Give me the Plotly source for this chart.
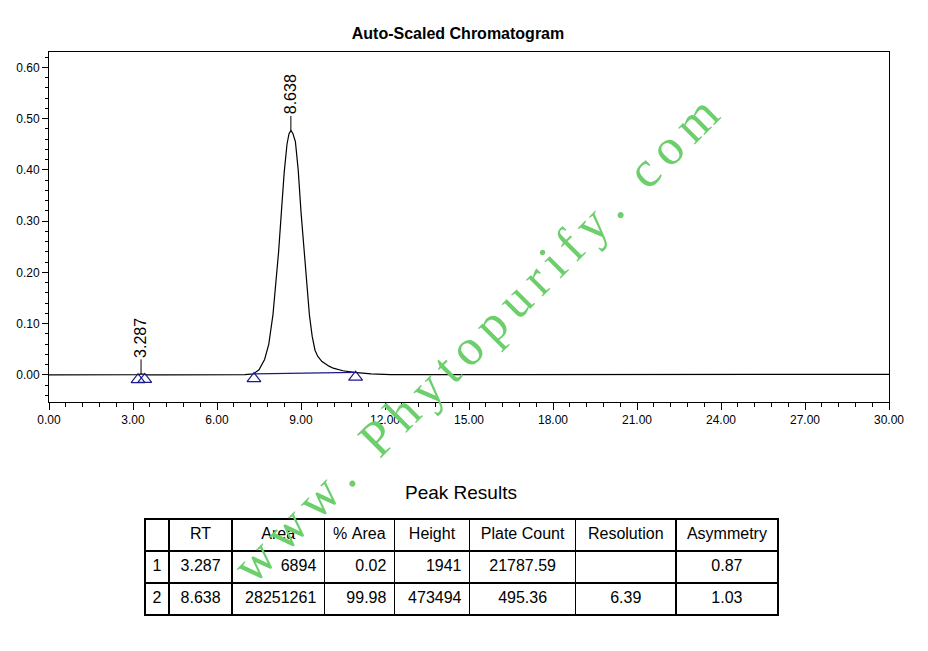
import plotly.graph_objects as go

# page has an 8px body margin, so the figure is drawn 8px in from the window edge
OFF = 8
W, H = 928 - OFF, 651 - OFF


def px_x(p):
    return (p - OFF) / W


def px_y(p):
    return 1 - (p - OFF) / H


# chromatogram trace (min, AU)
time_min = [0.0, 1.0, 2.0, 2.5, 2.7, 2.9, 3.1, 3.2, 3.287, 3.38, 3.5, 4.0, 5.0, 6.0, 7.0,
            7.3, 7.5, 7.7, 7.85, 8.0, 8.1, 8.2, 8.3, 8.4, 8.5, 8.57, 8.64, 8.71, 8.8,
            8.9, 9.0, 9.1, 9.2, 9.3, 9.4, 9.5, 9.6, 9.75, 10.0, 10.15, 10.5, 10.9, 11.5,
            12.2, 13.0, 15.0, 18.0, 21.0, 24.0, 27.0, 30.0]
absorb_au = [0.0, 0.0, 0.0003, 0.0006, 0.0012, 0.0008, 0.0002, 0.0006, 0.0019, 0.0006, 0.0,
             0.0, 0.0, 0.0, 0.0003,
             0.002, 0.010, 0.030, 0.060, 0.118, 0.175, 0.240, 0.318, 0.395, 0.450, 0.470,
             0.477, 0.471, 0.455, 0.400, 0.318, 0.245, 0.178, 0.117, 0.075, 0.048, 0.036,
             0.026, 0.017, 0.013, 0.008, 0.005, 0.002,
             0.0005, 0.0003, 0.0005, 0.0008, 0.001, 0.0008, 0.001, 0.001]

# peaks
peak_rt = [3.287, 8.638]
peak_apex = [0.0019, 0.477]
# baseline start / end of each peak
bl_start_t = [3.18, 7.32]
bl_start_y = [0.0002, 0.002]
bl_end_t = [3.42, 10.95]
bl_end_y = [0.0005, 0.005]

# peak results table
peak_no = ["1", "2"]
rt_txt = ["3.287", "8.638"]
area_txt = ["6894", "28251261"]
pct_area_txt = ["0.02", "99.98"]
height_txt = ["1941", "473494"]
plate_txt = ["21787.59", "495.36"]
resol_txt = ["", "6.39"]
asym_txt = ["0.87", "1.03"]
headers = ["", "RT", "Area", "%\u00a0Area", "Height", "Plate\u00a0Count", "Resolution", "Asymmetry"]

BLUE = "#1a1a8c"
FONT = "Liberation Sans, Arial, sans-serif"

fig = go.Figure()

fig.add_trace(go.Scatter(x=time_min, y=absorb_au, mode="lines",
                         line=dict(color="black", width=1.2), hoverinfo="skip"))

# baseline of the main peak
fig.add_trace(go.Scatter(x=[bl_start_t[1], bl_end_t[1]], y=[bl_start_y[1], bl_end_y[1]],
                         mode="lines", line=dict(color=BLUE, width=1.2), hoverinfo="skip"))

# baseline markers (triangles sit just under the trace)
tri_t = bl_start_t + bl_end_t
tri_y = [v - 0.0095 for v in bl_start_y + bl_end_y]
fig.add_trace(go.Scatter(x=tri_t, y=tri_y, mode="markers",
                         marker=dict(symbol="triangle-up-open", size=12,
                                     color=BLUE, line=dict(width=1.2)),
                         hoverinfo="skip"))

# peak flags
for rt, ap in zip(peak_rt, peak_apex):
    fig.add_annotation(x=rt, y=ap, xref="x", yref="y", text=f"{rt:.3f}",
                       textangle=-90, showarrow=True, arrowhead=0, arrowwidth=1,
                       arrowcolor="black", ax=0, ay=-36,
                       font=dict(family=FONT, size=16, color="black"))

fig.add_trace(go.Table(
    domain=dict(x=[px_x(145), px_x(778)], y=[0, px_y(519)]),
    columnwidth=[24, 63, 92, 70, 75, 106, 100, 102],
    header=dict(values=headers, height=32, align="center",
                line=dict(color="black", width=1.5), fill=dict(color="white"),
                font=dict(family=FONT, size=16, color="black")),
    cells=dict(values=[peak_no, rt_txt, area_txt, pct_area_txt, height_txt,
                       plate_txt, resol_txt, asym_txt],
               height=32,
               align=["center", "center", "right", "right", "right",
                      "center", "center", "center"],
               line=dict(color="black", width=1.5), fill=dict(color="white"),
               font=dict(family=FONT, size=16, color="black")),
))

fig.add_annotation(x=px_x(461), y=px_y(505), xref="paper", yref="paper",
                   text="Peak Results", showarrow=False,
                   font=dict(family=FONT, size=19, color="black"))

# watermark (letter-spaced)
th = "\u2006"
gap = "\u2006\u00a0\u2006"
wm = th.join("www.") + gap + th.join("Phytopurify.") + gap + th.join("com")
fig.add_annotation(x=px_x(476), y=px_y(339), xref="paper", yref="paper", text=wm,
                   textangle=-45, showarrow=False,
                   font=dict(family="Liberation Serif, Times New Roman, serif",
                             size=51, color="#6ccf6c"))

axis_common = dict(showline=True, linecolor="black", linewidth=1, mirror=True,
                   showgrid=False, zeroline=False, automargin=False,
                   ticks="outside", tickcolor="black",
                   tickformat=".2f", tickfont=dict(family=FONT, size=12, color="black"))

fig.update_layout(
    width=W, height=H,
    margin=dict(l=0, r=0, t=0, b=0),
    paper_bgcolor="white", plot_bgcolor="white",
    showlegend=False,
    title=dict(text="<b>Auto-Scaled Chromatogram</b>", x=px_x(458), y=px_y(33),
               xanchor="center", yanchor="middle",
               font=dict(family=FONT, size=16, color="black")),
    xaxis=dict(domain=[px_x(49), px_x(889)], range=[0, 30], dtick=3, tick0=0, ticklen=7,
               minor=dict(dtick=0.6, ticks="outside", ticklen=4, tickcolor="black"),
               **axis_common),
    yaxis=dict(domain=[px_y(402), px_y(52)], range=[-0.053, 0.63], dtick=0.1, tick0=0,
               ticklen=6,
               minor=dict(dtick=0.02, ticks="outside", ticklen=3, tickcolor="black"),
               **axis_common),
)

fig.write_html("out.html")
